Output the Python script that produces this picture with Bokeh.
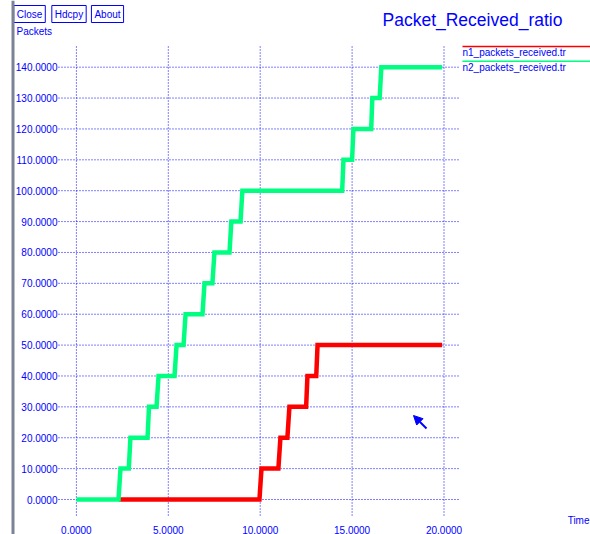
from bokeh.plotting import figure
from bokeh.models import (Range1d, FixedTicker, PrintfTickFormatter, Label,
                          BoxAnnotation, Arrow, NormalHead)
from bokeh.embed import file_html
from bokeh.resources import INLINE

# ---------------- data ----------------
n1_time = [2.31, 9.96, 10.07, 10.99, 11.10, 11.48, 11.59, 12.50, 12.57, 13.05, 13.12, 19.9]
n1_packets = [0, 0, 10, 10, 20, 20, 30, 30, 40, 40, 50, 50]

n2_time = [0.0, 2.29, 2.40, 2.85, 2.94, 3.87, 3.95, 4.36, 4.47, 5.34, 5.45, 5.83, 5.94,
           6.86, 6.97, 7.40, 7.51, 8.33, 8.43, 8.93, 9.03, 14.46, 14.53, 15.00, 15.07,
           16.04, 16.10, 16.50, 16.59, 19.9]
n2_packets = [0, 0, 10, 10, 20, 20, 30, 30, 40, 40, 50, 50, 60, 60, 70, 70, 80, 80,
              90, 90, 100, 100, 110, 110, 120, 120, 130, 130, 140, 140]

x_ticks = [0, 5, 10, 15, 20]
y_ticks = [0, 10, 20, 30, 40, 50, 60, 70, 80, 90, 100, 110, 120, 130, 140]

title_text = "Packet_Received_ratio"
series_names = ["n1_packets_received.tr", "n2_packets_received.tr"]
series_colors = ["#ff0000", "#00ff80"]
button_names = ["Close", "Hdcpy", "About"]
y_title = "Packets"
x_title = "Time"

# ---------------- layout ----------------
FONT = "Liberation Sans"
BLUE = "#0000ff"
W, H = 590, 534
# pixel -> data helpers (frame covers the whole canvas)
X0_PX, X_SCALE = 75.9, 18.38
Y0_PX, Y_SCALE = 499.0, 3.088


def tx(px):
    return (px - X0_PX) / X_SCALE


def vy(py):
    return (Y0_PX - py) / Y_SCALE


x_start, x_end = tx(0), tx(W)
y_start, y_end = vy(H), vy(0)

p = figure(width=W, height=H, output_backend="svg", toolbar_location=None,
           x_range=Range1d(x_start, x_end), y_range=Range1d(y_start, y_end),
           min_border_left=0, min_border_right=0, min_border_top=0,
           min_border_bottom=0)
p.title.visible = False
p.outline_line_color = None
p.grid.visible = False
p.background_fill_color = "white"
p.border_fill_color = "white"

for ax, ticks in ((p.xaxis[0], x_ticks), (p.yaxis[0], y_ticks)):
    ax.ticker = FixedTicker(ticks=ticks)
    ax.formatter = PrintfTickFormatter(format="%.4f")
    ax.axis_line_color = None
    ax.major_tick_line_color = None
    ax.minor_tick_line_color = None
    ax.major_tick_out = 0
    ax.major_tick_in = 0
    ax.minor_tick_out = 0
    ax.minor_tick_in = 0
    ax.major_label_text_font = FONT
    ax.major_label_text_font_size = "10px"
    ax.major_label_text_color = BLUE
# axes drawn at fixed places inside the canvas, like xgraph does
p.yaxis[0].fixed_location = tx(58)
p.yaxis[0].major_label_standoff = 1
p.xaxis[0].fixed_location = vy(523)
p.xaxis[0].major_label_standoff = 2

# grid lines (dotted)
grid_left, grid_right = tx(58), tx(460)
grid_top, grid_bottom = vy(45), vy(515)
p.segment(x0=[grid_left] * len(y_ticks), y0=y_ticks, x1=[grid_right] * len(y_ticks),
          y1=y_ticks, line_color=BLUE, line_width=1, line_dash="1 2")
p.segment(x0=x_ticks, y0=[grid_bottom] * len(x_ticks), x1=x_ticks,
          y1=[grid_top] * len(x_ticks), line_color=BLUE, line_width=1,
          line_dash="1 2")

# data series
p.line(n1_time, n1_packets, line_color=series_colors[0], line_width=4.5,
       line_join="miter")
p.line(n2_time, n2_packets, line_color=series_colors[1], line_width=4.5,
       line_join="miter")

# legend (xgraph style: coloured line above each name)
leg_line_y = [46, 60.7]
leg_text_y = [51.7, 66.7]
for name, col, ly, ty in zip(series_names, series_colors, leg_line_y, leg_text_y):
    p.segment(x0=[tx(462)], y0=[vy(ly)], x1=[x_end], y1=[vy(ly)],
              line_color=col, line_width=1.5)
    p.add_layout(Label(x=tx(462), y=vy(ty), text=name, text_font=FONT,
                       text_font_size="10px", text_color=BLUE,
                       text_align="left", text_baseline="middle"))

# title
p.add_layout(Label(x=tx(382), y=vy(19), text=title_text, text_font=FONT,
                   text_font_size="17.5px", text_color=BLUE,
                   text_align="left", text_baseline="middle"))

# buttons
for name, cx in zip(button_names, [29, 68.5, 107]):
    p.add_layout(Label(x=tx(cx), y=vy(13.5), text=name, text_font=FONT,
                       text_font_size="10px", text_color=BLUE,
                       text_align="center", text_baseline="middle",
                       border_line_color=BLUE, border_line_width=1,
                       padding=3))

# axis titles
p.add_layout(Label(x=tx(16), y=vy(31), text=y_title, text_font=FONT,
                   text_font_size="10px", text_color=BLUE,
                   text_align="left", text_baseline="middle"))
p.add_layout(Label(x=tx(589), y=vy(520), text=x_title, text_font=FONT,
                   text_font_size="10px", text_color=BLUE,
                   text_align="right", text_baseline="middle"))

# window border bar on the left
p.add_layout(BoxAnnotation(left=tx(11), right=tx(14), top=vy(0), bottom=vy(H),
                           fill_color="#7b8494", fill_alpha=1, line_color=None))

# mouse cursor arrow
p.add_layout(Arrow(end=NormalHead(size=9, fill_color=BLUE, line_color=BLUE),
                   x_start=tx(426), y_start=vy(428), x_end=tx(413), y_end=vy(415),
                   line_color=BLUE, line_width=2))

open("out.html", "w").write(file_html(p, INLINE))
